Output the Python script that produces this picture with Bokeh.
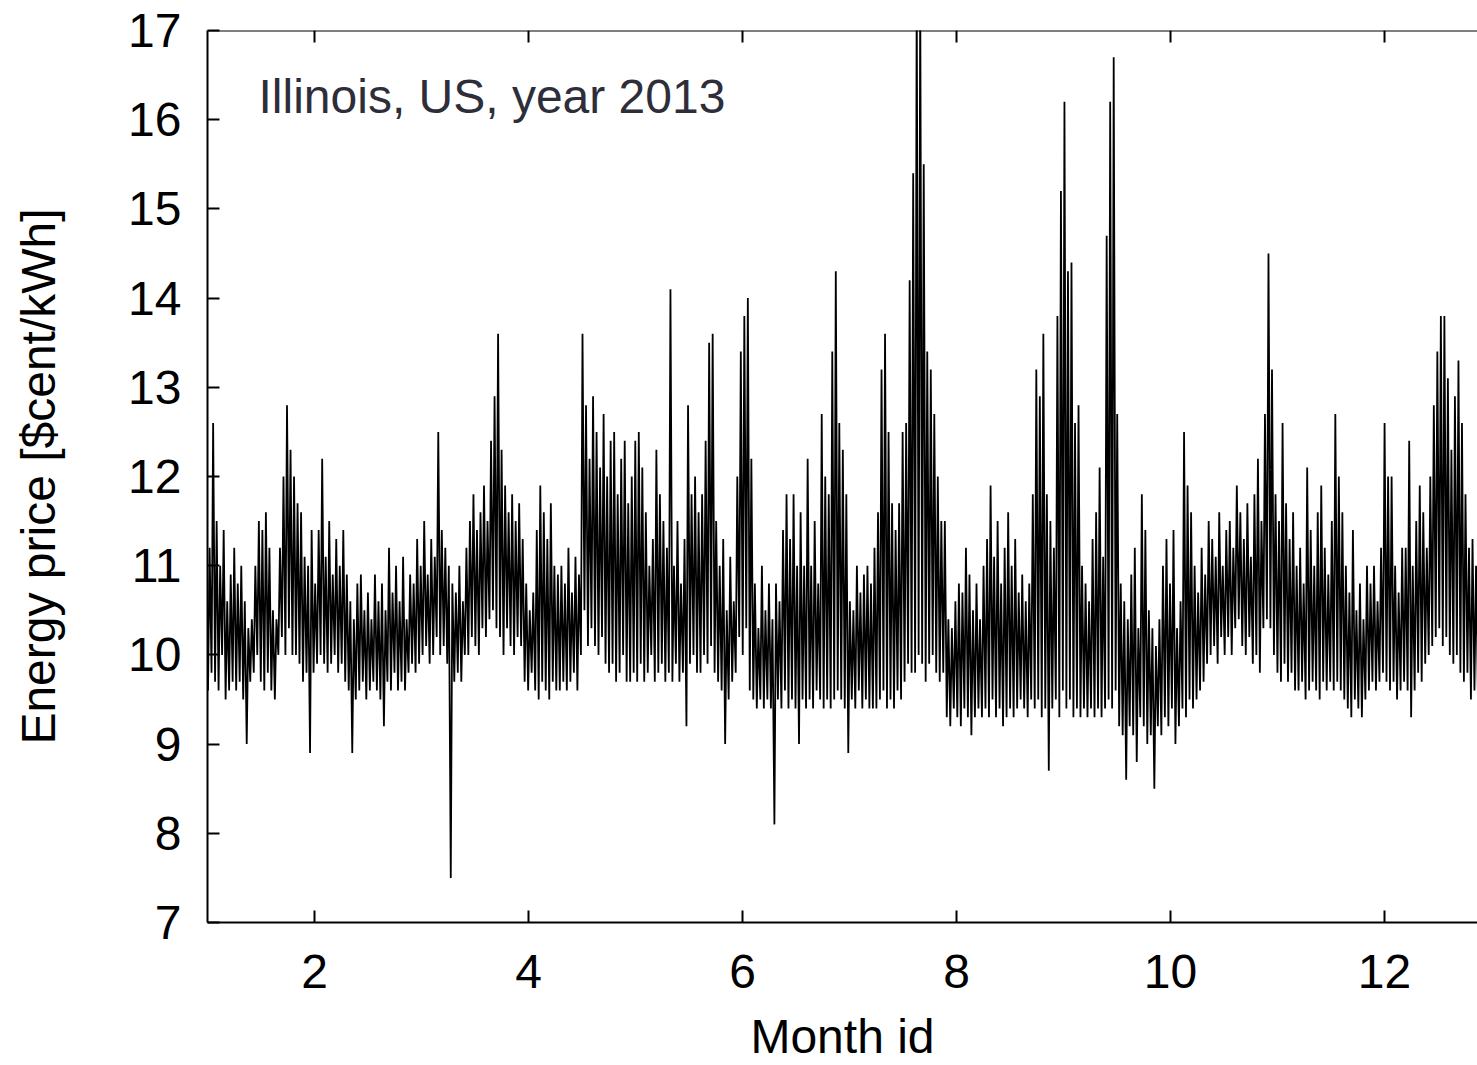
from bokeh.plotting import figure
from bokeh.models import Range1d, FixedTicker, Label, ColumnDataSource, Span
from bokeh.embed import file_html
from bokeh.resources import INLINE

# ---- data: estimated daily high / low price (cent/kWh), day 0 = Jan 1 ----
daily_high = [
    11.2, 12.6, 11.5, 11.0, 11.4, 10.6, 10.9, 11.2, 10.8, 11.0,
    10.6, 10.3, 10.4, 11.0, 11.5, 11.4, 11.6, 11.2, 10.5, 10.4,
    11.2, 12.0, 12.8, 12.3, 12.0, 11.7, 11.6, 11.1, 11.0, 11.4,
    10.8, 11.4, 12.2, 11.1, 11.5, 10.9, 11.3, 11.0, 11.4, 10.9,
    10.6, 10.4, 10.8, 10.9, 10.5, 10.7, 10.4, 10.9, 10.6, 10.8,
    10.5, 11.2, 10.7, 11.0, 10.6, 11.1, 10.4, 10.9, 10.8, 11.3,
    11.0, 11.5, 10.9, 11.3, 11.1, 12.5, 11.4, 11.2, 11.0, 10.8,
    10.7, 11.0, 10.6, 11.2, 11.5, 11.8, 11.4, 11.6, 11.9, 11.5,
    12.4, 12.9, 13.6, 12.3, 11.9, 11.6, 11.8, 11.5, 11.7, 11.3,
    10.8, 10.5, 10.7, 11.4, 11.9, 11.6, 11.3, 11.7, 11.0, 10.9,
    11.0, 10.8, 11.2, 10.7, 11.1, 10.9, 13.6, 12.8, 12.2, 12.9,
    12.5, 12.1, 12.7, 12.0, 12.4, 12.5, 11.8, 12.2, 12.4, 11.7,
    12.0, 12.4, 12.5, 12.1, 11.6, 11.0, 11.3, 12.3, 11.8, 11.5,
    11.2, 14.1, 11.0, 11.5, 10.8, 11.3, 12.8, 11.8, 12.0, 11.6,
    11.8, 12.4, 13.5, 13.6, 11.5, 11.0, 11.3, 10.5, 11.1, 10.6,
    12.0, 13.4, 13.8, 14.0, 12.2, 10.8, 10.3, 11.0, 10.5, 10.8,
    10.4, 10.8, 10.6, 11.4, 11.8, 11.3, 11.8, 11.0, 11.6, 11.0,
    12.2, 11.0, 11.5, 10.8, 12.7, 12.0, 11.8, 13.4, 14.3, 12.6,
    12.3, 11.8, 10.6, 10.5, 11.0, 10.7, 10.9, 11.0, 10.8, 11.2,
    11.6, 13.2, 13.6, 12.5, 11.7, 11.4, 11.7, 12.5, 12.6, 14.2,
    15.4, 17.5, 17.5, 15.5, 13.4, 13.2, 12.7, 12.0, 11.5, 11.5,
    10.4, 10.3, 10.6, 10.8, 10.7, 11.2, 10.9, 10.5, 10.8, 10.4,
    11.0, 11.3, 11.9, 11.1, 11.5, 10.8, 11.2, 11.6, 11.0, 11.3,
    10.7, 10.9, 10.6, 10.8, 11.8, 13.2, 12.9, 13.6, 11.8, 11.5,
    11.2, 13.8, 15.2, 16.2, 14.3, 14.4, 12.6, 12.8, 11.0, 10.8,
    10.6, 11.3, 11.6, 12.1, 11.1, 14.7, 16.2, 16.7, 12.7, 10.8,
    10.6, 10.4, 10.9, 11.2, 10.3, 11.8, 11.4, 10.5, 10.3, 10.1,
    10.4, 11.0, 11.3, 10.8, 11.4, 10.3, 10.6, 12.5, 11.9, 11.6,
    11.0, 10.7, 11.2, 10.9, 11.5, 11.3, 11.1, 11.6, 11.0, 11.4,
    11.5, 11.2, 11.9, 11.6, 11.3, 11.7, 11.1, 11.8, 12.2, 11.5,
    12.7, 14.5, 13.2, 11.8, 11.5, 12.6, 11.7, 11.3, 11.6, 11.0,
    11.2, 10.8, 12.1, 11.4, 11.0, 11.6, 11.9, 11.2, 10.9, 11.5,
    12.7, 12.0, 11.6, 11.0, 10.7, 11.4, 10.5, 10.8, 10.4, 11.0,
    10.8, 11.0, 10.6, 11.2, 12.6, 12.0, 12.0, 11.0, 10.7, 11.2,
    11.2, 12.4, 11.0, 11.5, 11.9, 11.6, 11.2, 12.0, 12.8, 13.4,
    13.8, 13.8, 13.1, 12.3, 12.9, 13.3, 12.6, 11.8, 11.2, 11.3,
    11.0, 10.8, 11.2, 10.6, 11.0,
]
daily_low = [
    9.6, 9.8, 9.7, 9.6, 10.0, 9.5, 9.6, 9.7, 9.6, 9.7,
    9.5, 9.0, 9.7, 9.8, 10.0, 9.7, 9.6, 9.8, 9.6, 9.5,
    10.0, 10.2, 10.0, 10.3, 10.0, 10.0, 9.9, 9.7, 9.8, 8.9,
    9.8, 9.9, 10.0, 9.9, 9.8, 9.9, 10.0, 9.8, 9.9, 9.7,
    9.6, 8.9, 9.5, 9.6, 9.7, 9.5, 9.6, 9.7, 9.6, 9.5,
    9.2, 9.7, 9.6, 9.8, 9.6, 9.7, 9.6, 9.8, 9.9, 9.8,
    9.9, 10.0, 10.1, 9.9, 10.0, 10.2, 10.0, 10.1, 9.9, 7.5,
    9.7, 9.8, 9.7, 10.0, 10.0, 10.2, 10.1, 10.0, 10.3, 10.2,
    10.4, 10.5, 10.3, 10.2, 10.0, 10.3, 10.1, 10.0, 10.2, 10.1,
    9.7, 9.6, 9.8, 9.6, 9.5, 9.7, 9.6, 9.5, 9.7, 9.6,
    9.6, 9.7, 9.6, 9.7, 9.8, 9.6, 10.0, 10.5, 10.1, 10.3,
    10.1, 10.0, 10.2, 9.9, 9.8, 9.9, 9.7, 9.8, 10.0, 9.7,
    9.7, 9.8, 9.7, 9.9, 9.7, 9.8, 10.0, 9.7, 9.8, 9.9,
    9.7, 9.8, 9.7, 9.9, 9.7, 9.8, 9.2, 9.9, 10.0, 9.8,
    9.8, 10.0, 9.9, 10.1, 9.8, 9.7, 9.6, 9.0, 9.5, 9.7,
    9.8, 10.2, 10.0, 10.3, 9.6, 9.5, 9.4, 9.5, 9.4, 9.5,
    9.4, 8.1, 9.5, 9.4, 9.6, 9.4, 9.5, 9.4, 9.0, 9.5,
    9.4, 9.5, 9.4, 9.6, 9.5, 9.4, 9.5, 9.4, 9.5, 9.6,
    9.5, 9.4, 8.9, 9.5, 9.4, 9.6, 9.4, 9.5, 9.4, 9.4,
    9.4, 9.5, 9.6, 9.4, 9.5, 9.4, 9.6, 9.5, 9.7, 9.9,
    9.8, 9.8, 10.0, 9.9, 9.7, 9.9, 10.0, 9.8, 9.7, 9.8,
    9.3, 9.2, 9.4, 9.3, 9.2, 9.4, 9.3, 9.1, 9.3, 9.4,
    9.3, 9.4, 9.3, 9.5, 9.3, 9.4, 9.2, 9.3, 9.4, 9.3,
    9.4, 9.5, 9.4, 9.3, 9.5, 9.4, 9.5, 9.3, 9.4, 8.7,
    9.4, 9.5, 9.3, 9.6, 9.4, 9.5, 9.3, 9.4, 9.3, 9.4,
    9.3, 9.4, 9.3, 9.4, 9.3, 9.4, 9.5, 9.4, 9.6, 9.2,
    9.1, 8.6, 9.2, 9.1, 8.8, 9.3, 9.2, 9.0, 9.1, 8.5,
    9.2, 9.1, 9.3, 9.2, 9.4, 9.0, 9.2, 9.4, 9.3, 9.5,
    9.4, 9.5, 9.6, 9.7, 9.9, 10.0, 10.1, 9.9, 10.2, 10.0,
    10.2, 10.0, 10.3, 10.4, 10.1, 10.0, 10.2, 9.9, 10.0, 9.8,
    10.3, 10.4, 10.3, 10.0, 9.8, 9.7, 9.9, 9.7, 9.8, 9.6,
    9.6, 9.7, 9.5, 9.6, 9.7, 9.6, 9.5, 9.7, 9.6, 9.7,
    9.6, 9.7, 9.6, 9.5, 9.4, 9.3, 9.5, 9.4, 9.3, 9.5,
    9.6, 9.7, 9.6, 9.7, 9.8, 9.7, 9.6, 9.7, 9.5, 9.6,
    9.7, 9.6, 9.3, 9.6, 9.8, 9.7, 9.9, 10.0, 10.1, 10.2,
    10.3, 10.1, 10.2, 10.0, 9.9, 10.0, 9.8, 9.7, 9.8, 9.5,
    9.6, 9.5, 9.7, 9.6, 9.5,
]
x_ticks = [2, 4, 6, 8, 10, 12]
y_ticks = [7, 8, 9, 10, 11, 12, 13, 14, 15, 16, 17]
x_title = "Month id"
y_title = "Energy price [$cent/kWh]"
note_text = "Illinois, US, year 2013"

# month id: 1 at Jan 1, 13 at end of year
days_in_year = 365
xs, ys = [], []
for d, (lo, hi) in enumerate(zip(daily_low, daily_high)):
    xs.append(1 + 12 * (d + 0.15) / days_in_year)
    ys.append(lo)
    xs.append(1 + 12 * (d + 0.6) / days_in_year)
    ys.append(hi)
src = ColumnDataSource(dict(x=xs, y=ys))

FONT = "Liberation Sans"
FS = "48px"
X0, X1, Y0, Y1 = 1, 12.869, 7, 17
PX_PER_Y = 892 / (Y1 - Y0)

p = figure(width=1477, height=1065, output_backend="svg", toolbar_location=None,
           x_range=Range1d(X0, X1), y_range=Range1d(Y0, Y1))
p.min_border_left = 207
p.min_border_right = 0
p.min_border_top = 30
p.min_border_bottom = 143
p.outline_line_color = None
p.xgrid.visible = False
p.ygrid.visible = False
p.background_fill_color = "white"
p.border_fill_color = "white"

p.line("x", "y", source=src, line_color="black", line_width=1.8)

def style_axis(ax, ticks):
    ax.ticker = FixedTicker(ticks=ticks)
    ax.axis_line_color = "black"
    ax.axis_line_width = 2
    ax.major_tick_line_color = "black"
    ax.major_tick_line_width = 2
    ax.major_tick_in = 12
    ax.major_tick_out = 0
    ax.minor_tick_in = 0
    ax.minor_tick_out = 0
    ax.minor_tick_line_color = None
    ax.major_label_text_font = FONT
    ax.major_label_text_color = "black"
    ax.major_label_text_font_size = FS
    ax.axis_label_text_font = FONT
    ax.axis_label_text_font_size = FS
    ax.axis_label_text_font_style = "normal"
    ax.axis_label_text_color = "black"

xa = p.xaxis[0]
style_axis(xa, x_ticks)
xa.major_label_standoff = 32
xa.axis_label = x_title
xa.axis_label_standoff = 19

ya = p.yaxis[0]
style_axis(ya, y_ticks)
ya.major_label_standoff = 26
ya.axis_label = y_title
ya.axis_label_standoff = 60

# top frame line with mirrored inward ticks
p.add_layout(Span(location=Y1, dimension="width", line_color="black", line_width=2))
p.segment(x0=x_ticks, y0=[Y1] * len(x_ticks), x1=x_ticks,
          y1=[Y1 - 12 / PX_PER_Y] * len(x_ticks), line_color="black", line_width=2)

p.add_layout(Label(x=X0 + 51 / 107, y=Y1 - 66 / PX_PER_Y, text=note_text,
                   text_font=FONT, text_font_size=FS, text_color="#2e2e3a",
                   text_align="left", text_baseline="alphabetic"))

open("out.html", "w").write(file_html(p, INLINE))
